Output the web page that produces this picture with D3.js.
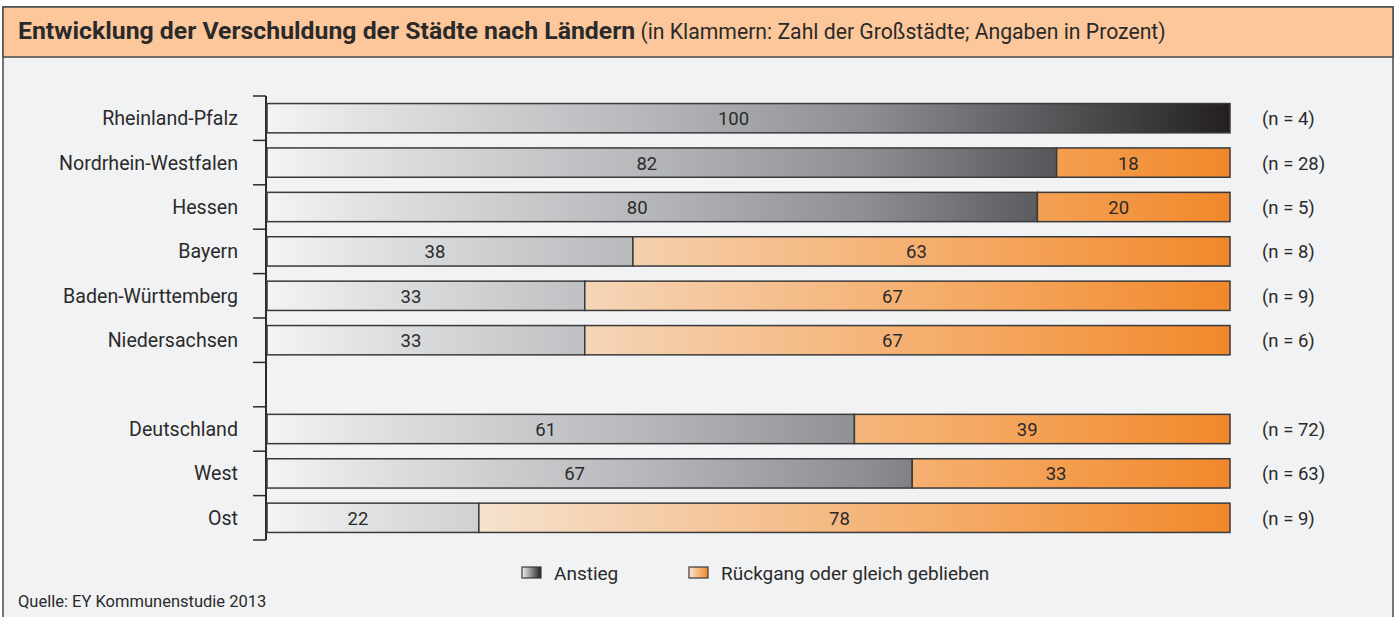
<!DOCTYPE html>
<html>
<head>
<meta charset="utf-8">
<script src="https://cdn.jsdelivr.net/npm/d3@7"></script>
<style>
  body { margin: 0; background: #fff; }
  text { font-family: "Liberation Sans Narrow", "Roboto", sans-serif; fill: #2b2a2a; }
</style>
</head>
<body>
<svg id="chart" width="1398" height="617"></svg>
<script>
// data
var laender = ["Rheinland-Pfalz", "Nordrhein-Westfalen", "Hessen", "Bayern",
               "Baden-Württemberg", "Niedersachsen", "", "Deutschland", "West", "Ost"];
var anstieg   = [100, 82, 80, 38, 33, 33, null, 61, 67, 22];
var rueckgang = [0, 18, 20, 63, 67, 67, null, 39, 33, 78];
var anzahl    = [4, 28, 5, 8, 9, 6, null, 72, 63, 9];
var legende   = ["Anstieg", "Rückgang oder gleich geblieben"];

var svg = d3.select("#chart");

// frame + title bar
svg.append("rect").attr("x", 3).attr("y", 7).attr("width", 1390).attr("height", 612)
   .attr("fill", "#f1f2f4").attr("stroke", "#4a4a4a").attr("stroke-width", 1.5);
svg.append("rect").attr("x", 3).attr("y", 7).attr("width", 1390).attr("height", 50)
   .attr("fill", "#fcc89b").attr("stroke", "#4a4a4a").attr("stroke-width", 1.5);

var title = svg.append("text").attr("x", 18).attr("y", 39);
title.append("tspan").attr("font-weight", "bold").attr("font-size", 24.8)
     .text("Entwicklung der Verschuldung der Städte nach Ländern");
title.append("tspan").attr("font-size", 21.2)
     .text(" (in Klammern: Zahl der Großstädte; Angaben in Prozent)");

// gradients
var defs = svg.append("defs");
var x = d3.scaleLinear().domain([0, 100]).range([267, 1230]).clamp(true);

function gradient(id, stops) {
  var g = defs.append("linearGradient").attr("id", id)
    .attr("gradientUnits", "userSpaceOnUse")
    .attr("x1", x(0)).attr("x2", x(100)).attr("y1", 0).attr("y2", 0);
  stops.forEach(function(s) {
    g.append("stop").attr("offset", s[0]).attr("stop-color", s[1]);
  });
}
gradient("grau", [[0, "#f4f4f5"], [0.1, "#e1e2e3"], [0.4, "#b5b6b9"], [0.62, "#8e8f92"],
                  [0.8, "#5b5c5f"], [1, "#231f20"]]);
gradient("orange", [[0, "#f7f6f5"], [0.15, "#f6eadc"], [0.35, "#f5d3b3"], [0.55, "#f5bd8a"],
                    [0.75, "#f5a75f"], [1, "#f1882b"]]);
// legend gradients (local)
function lgrad(id, a, b) {
  var g = defs.append("linearGradient").attr("id", id);
  g.append("stop").attr("offset", 0).attr("stop-color", a);
  g.append("stop").attr("offset", 1).attr("stop-color", b);
}
lgrad("lgrau", "#f2f2f2", "#231f20");
lgrad("lorange", "#fbe6d2", "#f1882b");

var y = d3.scaleBand().domain(d3.range(laender.length)).range([96, 540]).paddingInner(0.34).paddingOuter(0.17);
var step = y.step();

// axis with ticks at category boundaries
var ax = svg.append("g").attr("stroke", "#2b2a2a");
ax.append("line").attr("x1", 266).attr("x2", 266).attr("y1", 96).attr("y2", 540).attr("stroke-width", 2);
d3.range(laender.length + 1).forEach(function(i) {
  ax.append("line").attr("x1", 253).attr("x2", 266)
    .attr("y1", 96 + i * step).attr("y2", 96 + i * step).attr("stroke-width", 1.5);
});

var rows = svg.append("g").selectAll("g").data(laender).enter().append("g")
  .filter(function(d, i) { return anstieg[i] !== null; });

rows.append("text").attr("x", 238).attr("y", function(d) { return y(laender.indexOf(d)) + y.bandwidth() / 2 + 7; })
  .attr("text-anchor", "end").attr("font-size", 19.6).text(function(d) { return d; });

rows.each(function(d) {
  var i = laender.indexOf(d), g = d3.select(this);
  var y0 = y(i), h = y.bandwidth();
  var a = anstieg[i], r = rueckgang[i];
  g.append("rect").attr("x", x(0)).attr("y", y0).attr("width", x(a) - x(0)).attr("height", h)
    .attr("fill", "url(#grau)").attr("stroke", "#3a3a3a").attr("stroke-width", 1.5);
  if (r > 0) {
    g.append("rect").attr("x", x(a)).attr("y", y0).attr("width", x(a + r) - x(a)).attr("height", h)
      .attr("fill", "url(#orange)").attr("stroke", "#3a3a3a").attr("stroke-width", 1.5);
    g.append("text").attr("x", (x(a) + x(a + r)) / 2 - 15).attr("y", y0 + h / 2 + 7)
      .attr("text-anchor", "middle").attr("font-size", 18.5).text(r);
  }
  g.append("text").attr("x", (x(0) + x(a)) / 2 - 15).attr("y", y0 + h / 2 + 7)
    .attr("text-anchor", "middle").attr("font-size", 18.5).text(a);
  g.append("text").attr("x", 1262).attr("y", y0 + h / 2 + 7)
    .attr("font-size", 18.5).text("(n = " + anzahl[i] + ")");
});

// legend
var lx = [522, 689];
legende.forEach(function(t, k) {
  svg.append("rect").attr("x", lx[k]).attr("y", 567).attr("width", 19).attr("height", 11)
    .attr("fill", k ? "url(#lorange)" : "url(#lgrau)").attr("stroke", "#3a3a3a").attr("stroke-width", 1.2);
  svg.append("text").attr("x", lx[k] + 32).attr("y", 580).attr("font-size", 19).text(t);
});

svg.append("text").attr("x", 18).attr("y", 607).attr("font-size", 16.5).text("Quelle: EY Kommunenstudie 2013");
</script>
</body>
</html>
